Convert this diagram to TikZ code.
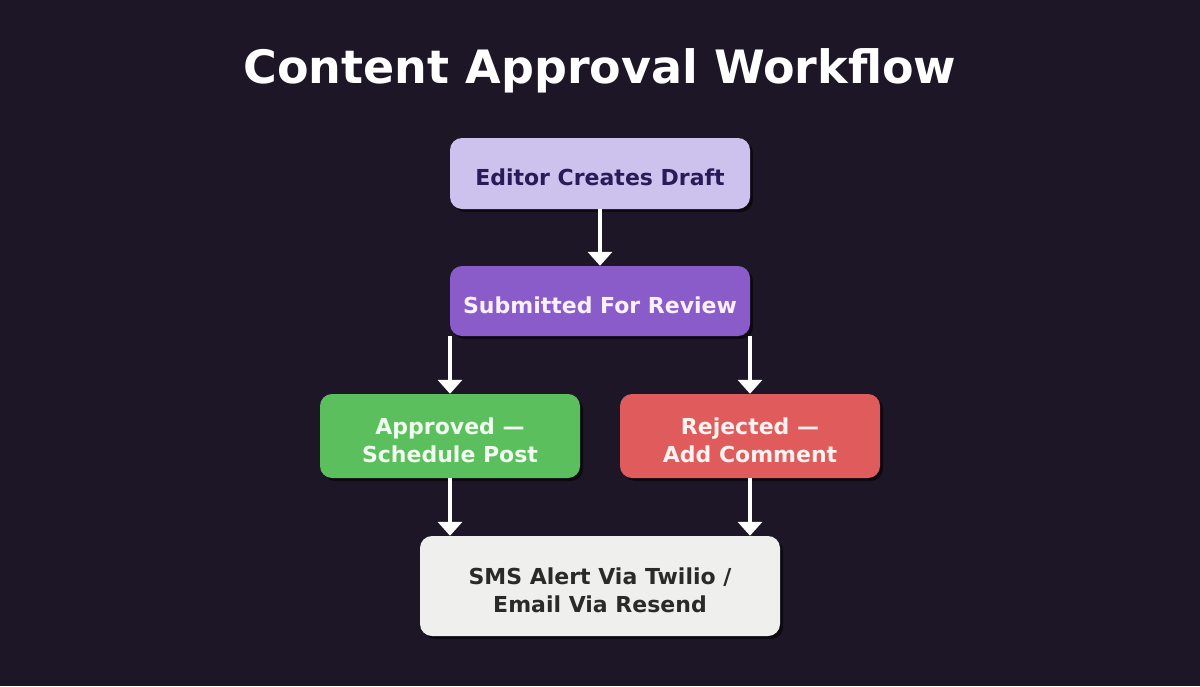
\documentclass[tikz,border=0pt]{standalone}
\usepackage{fontspec}
\setmainfont{DejaVu Sans}
\usetikzlibrary{arrows.meta,shadows}

\definecolor{bgdark}{HTML}{1C1626}
\definecolor{draftfill}{HTML}{CDC2EE}
\definecolor{drafttext}{HTML}{2A1B58}
\definecolor{reviewfill}{HTML}{8A5CC9}
\definecolor{reviewtext}{HTML}{FAF0FF}
\definecolor{okfill}{HTML}{5CBF5E}
\definecolor{oktext}{HTML}{F0FCEE}
\definecolor{nofill}{HTML}{E05B5B}
\definecolor{notext}{HTML}{FFF2F0}
\definecolor{alertfill}{HTML}{EFEFED}
\definecolor{alerttext}{HTML}{2A2A2A}

\tikzset{
  stagebox/.style={rectangle, rounded corners=12pt, inner sep=0pt,
    drop shadow={shadow xshift=3pt, shadow yshift=-3pt, fill=black, opacity=0.55}},
  stagetext/.style={align=center, yshift=-4pt, inner sep=0pt,
    font=\bfseries\fontsize{22}{28}\selectfont},
  flowarrow/.style={-{Triangle[width=24pt,length=14pt]}, line width=4pt, white}
}

\begin{document}
\begin{tikzpicture}[x=1pt, y=1pt]
    % Background
    \fill[bgdark] (0,0) rectangle (1200,-686);
    \useasboundingbox (0,0) rectangle (1200,-686);

    % Title
    \node (title) [white, font=\bfseries\fontsize{46}{50}\selectfont] at (600,-71) {Content Approval Workflow};

    % Draw the stages
    \node (draft) [stagebox, fill=draftfill, minimum width=300pt, minimum height=71pt,
      label={[stagetext, text=drafttext]center:Editor Creates Draft}] at (600,-173.5) {};
    \node (review) [stagebox, fill=reviewfill, minimum width=300pt, minimum height=70pt,
      label={[stagetext, text=reviewtext]center:Submitted For Review}] at (600,-301) {};
    \node (approved) [stagebox, fill=okfill, minimum width=260pt, minimum height=84pt,
      label={[stagetext, text=oktext]center:{Approved —\\Schedule Post}}] at (450,-436) {};
    \node (rejected) [stagebox, fill=nofill, minimum width=260pt, minimum height=84pt,
      label={[stagetext, text=notext]center:{Rejected —\\Add Comment}}] at (750,-436) {};
    \node (alert) [stagebox, fill=alertfill, minimum width=360pt, minimum height=100pt,
      label={[stagetext, text=alerttext]center:{SMS Alert Via Twilio /\\Email Via Resend}}] at (600,-586) {};

    % Draw the arrows
    \draw[flowarrow] (draft.south) -- (review.north);
    \draw[flowarrow] (review.south -| approved.north) -- (approved.north);
    \draw[flowarrow] (review.south -| rejected.north) -- (rejected.north);
    \draw[flowarrow] (approved.south) -- (approved.south |- alert.north);
    \draw[flowarrow] (rejected.south) -- (rejected.south |- alert.north);
\end{tikzpicture}
\end{document}
